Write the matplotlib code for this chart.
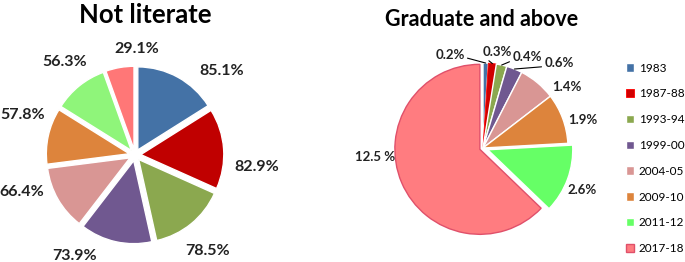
import matplotlib.pyplot as plt
import numpy as np

# data
years = ["1983", "1987-88", "1993-94", "1999-00", "2004-05", "2009-10", "2011-12", "2017-18"]
not_literate = [85.1, 82.9, 78.5, 73.9, 66.4, 57.8, 56.3, 29.1]
graduate = [0.2, 0.3, 0.4, 0.6, 1.4, 1.9, 2.6, 12.5]

colors_left = ["#4472A6", "#C00000", "#8BA84F", "#705890", "#D99694", "#DD843C", "#8FF57A", "#FF7777"]
colors_right = ["#4472A6", "#D00000", "#8BA84F", "#705890", "#D99694", "#DD843C", "#66FF66", "#FF7C80"]

plt.rcParams["font.family"] = ["Lato", "DejaVu Sans"]

W, H = 685, 262
fig = plt.figure(figsize=(W / 100, H / 100), dpi=100)


def pie_axes(cx, cy, half, r):
    # square axes in pixel units, pie radius 1 == r pixels
    ax = fig.add_axes([(cx - half) / W, 1 - (cy + half) / H, 2 * half / W, 2 * half / H])
    ax.axis("off")
    return ax


# left pie
r1 = 83
ax1 = pie_axes(135, 155, 130, r1)
w1, _ = ax1.pie(not_literate, colors=colors_left, startangle=90, counterclock=False,
                explode=[0.07] * 8, wedgeprops=dict(edgecolor="white", linewidth=1))
ax1.set_xlim(-130 / r1, 130 / r1)
ax1.set_ylim(-130 / r1, 130 / r1)

# label centres in pixels relative to the pie centre (Excel "outside end" placement)
left_pos = [(87, 84), (122, -12), (73, -96), (-60, -101), (-113, -37), (-112, 40), (-70, 93), (2, 106)]
for v, (dx, dy) in zip(not_literate, left_pos):
    ax1.text(dx / r1, dy / r1, f"{v}%", ha="center", va="center",
             fontsize=11.5, fontweight="bold", color="#222222")

fig.text(145 / W, 1 - 15 / H, "Not literate", ha="center", va="center",
         fontsize=18.5, fontweight="bold")

# right pie
r2 = 85
ax2 = pie_axes(483, 148, 130, r2)
explode2 = [0, 0, 0, 0, 0, 0, 0.06, 0.04]
w2, _ = ax2.pie(graduate, colors=colors_right, startangle=90, counterclock=False,
                explode=explode2, wedgeprops=dict(edgecolor="white", linewidth=1))
w2[-1].set_edgecolor("#E0506A")
w2[1].set_edgecolor("#FF0000")
w2[1].set_linewidth(0.6)
ax2.set_xlim(-130 / r2, 130 / r2)
ax2.set_ylim(-130 / r2, 130 / r2)

# label offsets (pixels, relative to pie centre) for the big slices
big_pos = {4: (84, 61), 5: (100, 28), 6: (99, -42), 7: (-108, -9)}
for i, (dx, dy) in big_pos.items():
    ax2.text(dx / r2, dy / r2, f"{graduate[i]}%" if i != 7 else f"{graduate[i]} %",
             ha="center", va="center", fontsize=9.5, fontweight="bold", color="#222222")

# small slices with leader lines
small_pos = {0: (-33, 93), 1: (14, 96), 2: (44, 91), 3: (76, 85)}
for i, (dx, dy) in small_pos.items():
    w = w2[i]
    ang = np.deg2rad((w.theta1 + w.theta2) / 2)
    ax2.annotate(f"{graduate[i]}%", xy=(np.cos(ang), np.sin(ang)),
                 xytext=(dx / r2, dy / r2), ha="center", va="center",
                 fontsize=9.5, fontweight="bold", color="#222222",
                 arrowprops=dict(arrowstyle="-", color="black", lw=0.8,
                                 shrinkA=0, shrinkB=0, relpos=(1, 0.3) if i == 0 else (0.0, 0.2)))

fig.text(482 / W, 1 - 19 / H, "Graduate and above", ha="center", va="center",
         fontsize=15.5, fontweight="bold")

fig.legend(w2, years, loc="upper left", bbox_to_anchor=(621 / W, 1 - 58 / H),
           frameon=False, fontsize=8.5, handlelength=0.7, handleheight=0.7,
           handletextpad=0.4, labelspacing=1.25, borderaxespad=0)

fig.savefig("out.png", dpi=100)
